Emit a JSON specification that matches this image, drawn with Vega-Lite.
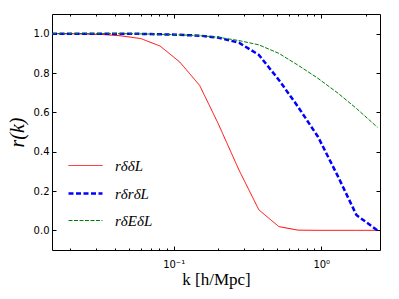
{
  "$schema": "https://vega.github.io/schema/vega-lite/v6.json",
  "width": 328,
  "height": 236,
  "autosize": {"type": "none"},
  "padding": {"left": 52, "top": 14, "right": 19, "bottom": 49},
  "background": "white",
  "config": {
    "view": {"stroke": "#000000", "strokeWidth": 1},
    "axis": {"domain": false, "grid": false, "tickColor": "#000000", "tickWidth": 1, "labelFont": "DejaVu Sans", "labelFontSize": 10, "labelColor": "#000000"}
  },
  "data": {"values": [
    {"k": 0.015, "s": "a", "r": 1.0},
    {"k": 0.0176, "s": "a", "r": 1.0},
    {"k": 0.024, "s": "a", "r": 0.999},
    {"k": 0.0325, "s": "a", "r": 0.996},
    {"k": 0.044, "s": "a", "r": 0.989},
    {"k": 0.06, "s": "a", "r": 0.975},
    {"k": 0.081, "s": "a", "r": 0.937},
    {"k": 0.11, "s": "a", "r": 0.856},
    {"k": 0.15, "s": "a", "r": 0.737},
    {"k": 0.2, "s": "a", "r": 0.544},
    {"k": 0.277, "s": "a", "r": 0.307},
    {"k": 0.378, "s": "a", "r": 0.104},
    {"k": 0.516, "s": "a", "r": 0.019},
    {"k": 0.695, "s": "a", "r": 0.001},
    {"k": 0.95, "s": "a", "r": 0.0},
    {"k": 1.3, "s": "a", "r": 0.0},
    {"k": 1.73, "s": "a", "r": 0.0},
    {"k": 2.4, "s": "a", "r": 0.0},
    {"k": 0.015, "s": "b", "r": 1.0},
    {"k": 0.0176, "s": "b", "r": 1.0},
    {"k": 0.024, "s": "b", "r": 1.0},
    {"k": 0.0325, "s": "b", "r": 1.0},
    {"k": 0.044, "s": "b", "r": 1.0},
    {"k": 0.06, "s": "b", "r": 0.999},
    {"k": 0.081, "s": "b", "r": 0.997},
    {"k": 0.11, "s": "b", "r": 0.994},
    {"k": 0.15, "s": "b", "r": 0.99},
    {"k": 0.2, "s": "b", "r": 0.98},
    {"k": 0.277, "s": "b", "r": 0.954},
    {"k": 0.378, "s": "b", "r": 0.892},
    {"k": 0.516, "s": "b", "r": 0.765},
    {"k": 0.695, "s": "b", "r": 0.629},
    {"k": 0.95, "s": "b", "r": 0.476},
    {"k": 1.3, "s": "b", "r": 0.273},
    {"k": 1.73, "s": "b", "r": 0.078},
    {"k": 2.4, "s": "b", "r": 0.0},
    {"k": 0.015, "s": "c", "r": 1.0},
    {"k": 0.0176, "s": "c", "r": 1.0},
    {"k": 0.024, "s": "c", "r": 1.0},
    {"k": 0.0325, "s": "c", "r": 1.0},
    {"k": 0.044, "s": "c", "r": 1.0},
    {"k": 0.06, "s": "c", "r": 0.999},
    {"k": 0.081, "s": "c", "r": 0.997},
    {"k": 0.11, "s": "c", "r": 0.994},
    {"k": 0.15, "s": "c", "r": 0.99},
    {"k": 0.2, "s": "c", "r": 0.982},
    {"k": 0.277, "s": "c", "r": 0.965},
    {"k": 0.378, "s": "c", "r": 0.943},
    {"k": 0.516, "s": "c", "r": 0.9},
    {"k": 0.695, "s": "c", "r": 0.84},
    {"k": 0.95, "s": "c", "r": 0.773},
    {"k": 1.3, "s": "c", "r": 0.697},
    {"k": 1.73, "s": "c", "r": 0.62},
    {"k": 2.4, "s": "c", "r": 0.524}
  ]},
  "resolve": {"axis": {"x": "independent", "y": "independent"}},
  "layer": [
    {
      "mark": {"type": "line", "clip": true},
      "encoding": {
        "x": {"field": "k", "type": "quantitative",
          "scale": {"type": "log", "domain": [0.015, 2.5], "nice": false, "zero": false},
          "axis": {"orient": "bottom", "values": [0.1, 1], "tickSize": -4, "labelPadding": 13,
            "labelExpr": "datum.value == 1 ? '10⁰' : '10⁻¹'",
            "title": "k [h/Mpc]", "titleFont": "Liberation Serif", "titleFontSize": 17, "titleFontWeight": "normal", "titleColor": "#000000", "titlePadding": 2}},
        "y": {"field": "r", "type": "quantitative",
          "scale": {"domain": [-0.1, 1.1], "nice": false, "zero": false},
          "axis": {"orient": "left", "values": [0, 0.2, 0.4, 0.6, 0.8, 1.0], "format": ".1f", "tickSize": -4, "labelPadding": 7,
            "title": "r(k)", "titleFont": "Liberation Serif", "titleFontStyle": "italic", "titleFontSize": 20, "titleFontWeight": "normal", "titleColor": "#000000", "titlePadding": 6}},
        "color": {"field": "s", "type": "nominal",
          "scale": {"domain": ["a", "b", "c"], "range": ["#ff0000", "#0000ff", "#008000"]},
          "legend": {"orient": "none", "legendX": 15, "legendY": 134, "title": null,
            "symbolType": "stroke", "symbolSize": 1156,
            "labelExpr": "datum.value == 'a' ? 'rδδL' : datum.value == 'b' ? 'rδrδL' : 'rδEδL'",
            "labelFont": "Liberation Serif", "labelFontStyle": "italic", "labelFontSize": 15, "labelColor": "#000000",
            "rowPadding": 1, "labelOffset": 11}},
        "strokeDash": {"field": "s", "type": "nominal",
          "scale": {"domain": ["a", "b", "c"], "range": [[1, 0], [5, 2.5], [4, 1.5]]}},
        "strokeWidth": {"field": "s", "type": "ordinal",
          "scale": {"type": "ordinal", "domain": ["a", "b", "c"], "range": [1, 2.5, 1]}}
      }
    },
    {
      "mark": {"type": "line", "opacity": 0},
      "encoding": {
        "x": {"field": "k", "type": "quantitative",
          "axis": {"orient": "bottom", "values": [0.02, 0.03, 0.04, 0.05, 0.06, 0.07, 0.08, 0.09, 0.2, 0.3, 0.4, 0.5, 0.6, 0.7, 0.8, 0.9, 2], "tickSize": -2, "labels": false, "title": null}},
        "y": {"field": "r", "type": "quantitative",
          "axis": {"orient": "right", "values": [0, 0.2, 0.4, 0.6, 0.8, 1.0], "tickSize": -4, "labels": false, "title": null}}
      }
    },
    {
      "mark": {"type": "line", "opacity": 0},
      "encoding": {
        "x": {"field": "k", "type": "quantitative",
          "axis": {"orient": "top", "values": [0.1, 1], "tickSize": -4, "labels": false, "title": null}},
        "y": {"field": "r", "type": "quantitative", "axis": null}
      }
    },
    {
      "mark": {"type": "line", "opacity": 0},
      "encoding": {
        "x": {"field": "k", "type": "quantitative",
          "axis": {"orient": "top", "values": [0.02, 0.03, 0.04, 0.05, 0.06, 0.07, 0.08, 0.09, 0.2, 0.3, 0.4, 0.5, 0.6, 0.7, 0.8, 0.9, 2], "tickSize": -2, "labels": false, "title": null}},
        "y": {"field": "r", "type": "quantitative", "axis": null}
      }
    }
  ]
}
